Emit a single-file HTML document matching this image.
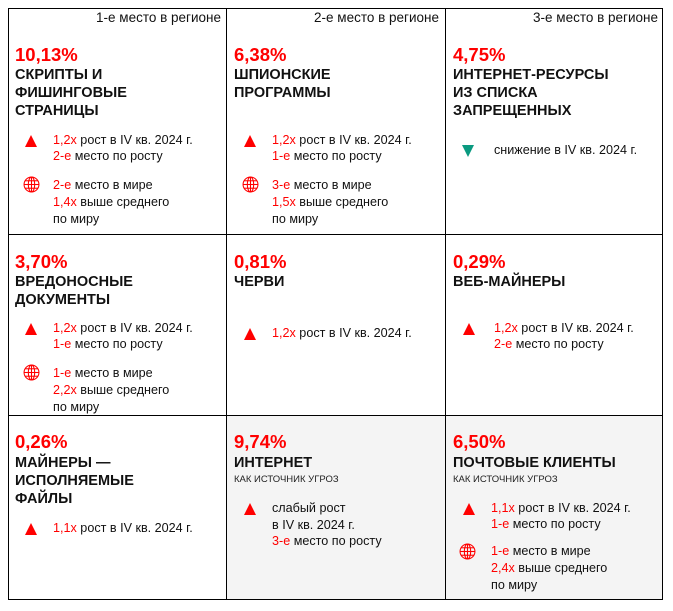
<!DOCTYPE html>
<html><head><meta charset="utf-8"><style>
body{margin:0;width:673px;height:611px;background:#fff;position:relative;font-family:"Liberation Sans",sans-serif;color:#111;overflow:hidden}
.a{position:absolute;white-space:nowrap}
.t{font-size:12.6px;line-height:16px}
.p{font-size:18.5px;font-weight:bold;color:#f00;line-height:22px}
.h{font-size:14.5px;font-weight:bold;line-height:18px}
.s{font-size:9.5px;line-height:12px;color:#222}
.r{color:#f00}
.tri{position:absolute;width:0;height:0;border-left:6.5px solid transparent;border-right:6.5px solid transparent;border-bottom:12px solid #f00}
.dn{position:absolute;width:0;height:0;border-left:6.5px solid transparent;border-right:6.5px solid transparent;border-top:12px solid #0a9a80}
.ln{position:absolute;background:#000}
.g{position:absolute;width:17px;height:17px}
</style></head><body>
<div style="position:absolute;left:226px;top:415px;width:437px;height:185px;background:#f4f4f4"></div>
<div class="ln" style="left:8px;top:8px;width:655px;height:1.2px"></div>
<div class="ln" style="left:8px;top:234px;width:655px;height:1.2px"></div>
<div class="ln" style="left:8px;top:415px;width:655px;height:1.2px"></div>
<div class="ln" style="left:8px;top:599px;width:655px;height:1.2px"></div>
<div class="ln" style="left:8px;top:8px;width:1.2px;height:592px"></div>
<div class="ln" style="left:225.5px;top:8px;width:1.2px;height:592px"></div>
<div class="ln" style="left:445px;top:8px;width:1.2px;height:592px"></div>
<div class="ln" style="left:661.5px;top:8px;width:1.2px;height:592px"></div>

<svg width="0" height="0" style="position:absolute"><defs><symbol id="gl" viewBox="0 0 16 16"><g fill="none" stroke="#f00" stroke-width="1"><circle cx="8" cy="8" r="7"/><ellipse cx="8" cy="8" rx="3" ry="7"/><line x1="8" y1="1" x2="8" y2="15"/><line x1="1" y1="8" x2="15" y2="8"/><line x1="2" y1="4.5" x2="14" y2="4.5"/><line x1="2" y1="11.5" x2="14" y2="11.5"/></g></symbol></defs></svg>

<div class="a t" style="right:452px;top:10px;font-size:13.5px">1-е место в регионе</div>
<div class="a t" style="right:234px;top:10px;font-size:13.5px">2-е место в регионе</div>
<div class="a t" style="right:15px;top:10px;font-size:13.5px">3-е место в регионе</div>

<div class="a p" style="left:15px;top:44px">10,13%</div>
<div class="a h" style="left:15px;top:66px">СКРИПТЫ И<br>ФИШИНГОВЫЕ<br>СТРАНИЦЫ</div>
<div class="tri" style="left:25px;top:135px"></div>
<div class="a t" style="left:53px;top:132px"><span class="r">1,2x</span> рост в IV кв. 2024 г.<br><span class="r">2-е</span> место по росту</div>
<svg class="g" style="left:23px;top:176px"><use href="#gl"/></svg>
<div class="a t" style="left:53px;top:177px;line-height:17px"><span class="r">2-е</span> место в мире<br><span class="r">1,4x</span> выше среднего<br>по миру</div>

<div class="a p" style="left:234px;top:44px">6,38%</div>
<div class="a h" style="left:234px;top:66px">ШПИОНСКИЕ<br>ПРОГРАММЫ</div>
<div class="tri" style="left:244px;top:135px"></div>
<div class="a t" style="left:272px;top:132px"><span class="r">1,2x</span> рост в IV кв. 2024 г.<br><span class="r">1-е</span> место по росту</div>
<svg class="g" style="left:242px;top:176px"><use href="#gl"/></svg>
<div class="a t" style="left:272px;top:177px;line-height:17px"><span class="r">3-е</span> место в мире<br><span class="r">1,5x</span> выше среднего<br>по миру</div>

<div class="a p" style="left:453px;top:44px">4,75%</div>
<div class="a h" style="left:453px;top:66px">ИНТЕРНЕТ-РЕСУРСЫ<br>ИЗ СПИСКА<br>ЗАПРЕЩЕННЫХ</div>
<div class="dn" style="left:462px;top:145px"></div>
<div class="a t" style="left:494px;top:142px">снижение в IV кв. 2024 г.</div>

<div class="a p" style="left:15px;top:251px">3,70%</div>
<div class="a h" style="left:15px;top:273px">ВРЕДОНОСНЫЕ<br>ДОКУМЕНТЫ</div>
<div class="tri" style="left:25px;top:323px"></div>
<div class="a t" style="left:53px;top:320px"><span class="r">1,2x</span> рост в IV кв. 2024 г.<br><span class="r">1-е</span> место по росту</div>
<svg class="g" style="left:23px;top:364px"><use href="#gl"/></svg>
<div class="a t" style="left:53px;top:365px;line-height:17px"><span class="r">1-е</span> место в мире<br><span class="r">2,2x</span> выше среднего<br>по миру</div>

<div class="a p" style="left:234px;top:251px">0,81%</div>
<div class="a h" style="left:234px;top:273px">ЧЕРВИ</div>
<div class="tri" style="left:244px;top:328px"></div>
<div class="a t" style="left:272px;top:325px"><span class="r">1,2x</span> рост в IV кв. 2024 г.</div>

<div class="a p" style="left:453px;top:251px">0,29%</div>
<div class="a h" style="left:453px;top:273px">ВЕБ-МАЙНЕРЫ</div>
<div class="tri" style="left:463px;top:323px"></div>
<div class="a t" style="left:494px;top:320px"><span class="r">1,2x</span> рост в IV кв. 2024 г.<br><span class="r">2-е</span> место по росту</div>

<div class="a p" style="left:15px;top:431px">0,26%</div>
<div class="a h" style="left:15px;top:454px">МАЙНЕРЫ —<br>ИСПОЛНЯЕМЫЕ<br>ФАЙЛЫ</div>
<div class="tri" style="left:25px;top:523px"></div>
<div class="a t" style="left:53px;top:520px"><span class="r">1,1x</span> рост в IV кв. 2024 г.</div>

<div class="a p" style="left:234px;top:431px">9,74%</div>
<div class="a h" style="left:234px;top:454px">ИНТЕРНЕТ</div>
<div class="a s" style="left:234px;top:474px">КАК ИСТОЧНИК УГРОЗ</div>
<div class="tri" style="left:244px;top:503px"></div>
<div class="a t" style="left:272px;top:500px;line-height:16.5px">слабый рост<br>в IV кв. 2024 г.<br><span class="r">3-е</span> место по росту</div>

<div class="a p" style="left:453px;top:431px">6,50%</div>
<div class="a h" style="left:453px;top:454px">ПОЧТОВЫЕ КЛИЕНТЫ</div>
<div class="a s" style="left:453px;top:474px">КАК ИСТОЧНИК УГРОЗ</div>
<div class="tri" style="left:463px;top:503px"></div>
<div class="a t" style="left:491px;top:500px"><span class="r">1,1x</span> рост в IV кв. 2024 г.<br><span class="r">1-е</span> место по росту</div>
<svg class="g" style="left:459px;top:543px"><use href="#gl"/></svg>
<div class="a t" style="left:491px;top:543px;line-height:17px"><span class="r">1-е</span> место в мире<br><span class="r">2,4x</span> выше среднего<br>по миру</div>
</body></html>
